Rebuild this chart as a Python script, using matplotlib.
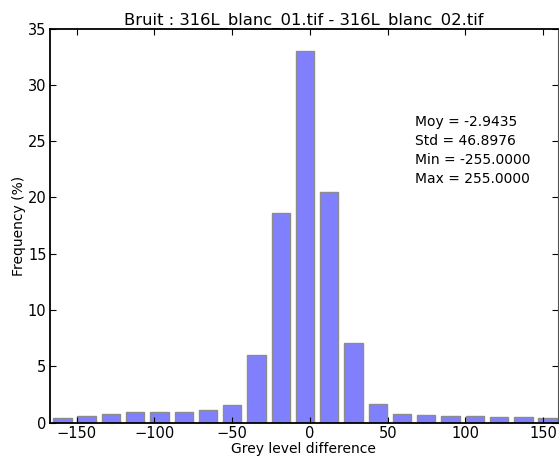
import matplotlib
matplotlib.use("Agg")
import matplotlib.pyplot as plt

# Histogram of grey level differences (bin centres and frequencies in %)
bin_centers = [-159.2, -143.6, -128.0, -112.4, -96.8, -81.2, -65.6, -50.0,
               -34.4, -18.8, -3.2, 12.4, 28.0, 43.6, 59.2, 74.8, 90.4,
               106.0, 121.6, 137.2, 152.8]
frequency = [0.40, 0.60, 0.74, 0.98, 0.98, 0.92, 1.10, 1.60,
             6.00, 18.6, 33.0, 20.45, 7.10, 1.63, 0.77, 0.68, 0.59,
             0.59, 0.53, 0.48, 0.45]
bar_width = 11.8

stats_labels = ["Moy", "Std", "Min", "Max"]
stats_values = [-2.9435, 46.8976, -255.0, 255.0]

x_ticks = [-150, -100, -50, 0, 50, 100, 150]
y_ticks = [0, 5, 10, 15, 20, 25, 30, 35]

fig = plt.figure(figsize=(5.59, 4.59), dpi=100)
ax = fig.add_axes([0.0894, 0.0791, 0.9083, 0.8588])

ax.bar(bin_centers, frequency, width=bar_width, align="center",
       facecolor="#8080ff", edgecolor="#8c8c8c", linewidth=1.0)

ax.set_xlim(-167.2, 159.3)
ax.set_ylim(0, 35)
ax.set_xticks(x_ticks)
ax.set_yticks(y_ticks)
ax.tick_params(direction="in", top=True, right=True, length=4,
               labelsize=10.5, pad=2.5)

for side in ("left", "bottom", "top"):
    ax.spines[side].set_linewidth(1.3)
ax.spines["right"].set_linewidth(0.8)
ax.spines["right"].set_color("#555555")

ax.set_title("Bruit : 316L_blanc_01.tif - 316L_blanc_02.tif", fontsize=11.8, pad=3)
ax.set_xlabel("Grey level difference", fontsize=10, labelpad=0.5)
ax.set_ylabel("Frequency (%)", fontsize=10, labelpad=1)

stats_text = "\n".join(f"{n} = {v:.4f}" for n, v in zip(stats_labels, stats_values))
ax.text(0.719, 0.780, stats_text, transform=ax.transAxes, fontsize=10,
        va="top", ha="left", linespacing=1.45)

fig.savefig("out.png", dpi=100)
